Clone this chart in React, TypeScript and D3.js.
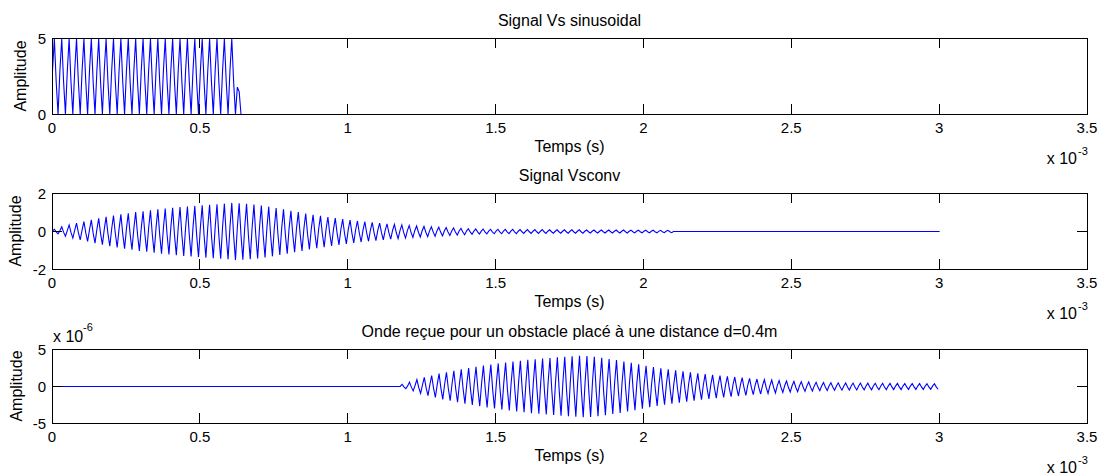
import * as d3 from "d3";

// time axis shown in ms (x 10^-3 s)
const xTicks = [0, 0.5, 1, 1.5, 2, 2.5, 3, 3.5];
const sampleStep = 0.00625; // 4 samples per 25 µs period (40 kHz)

// Vs: one sampled period, repeated
const vsCycle = [2.85, 4.98, 2.15, 0.02];
const vsCycles = 25;
const vsTail = [1.8, 1.5, 0];

// normalized samples of one carrier period
const cycleShape = [0.14, 0.99, -0.14, -0.99];

// Vsconv: peak amplitude of each period
const vsconvPeaks = [
  0.12, 0.25, 0.35, 0.45, 0.53, 0.62, 0.7, 0.78, 0.85, 0.91,
  0.97, 1.03, 1.08, 1.13, 1.18, 1.22, 1.26, 1.3, 1.33, 1.36,
  1.39, 1.42, 1.45, 1.48, 1.52, 1.5, 1.47, 1.43, 1.38, 1.32,
  1.25, 1.18, 1.1, 1.03, 0.96, 0.89, 0.83, 0.77, 0.71, 0.66,
  0.61, 0.56, 0.52, 0.48, 0.44, 0.41, 0.38, 0.35, 0.32, 0.29,
  0.27, 0.25, 0.23, 0.21, 0.19, 0.17, 0.15, 0.14, 0.13, 0.12,
  0.12, 0.11, 0.11, 0.1, 0.1, 0.1, 0.1, 0.09, 0.09, 0.09,
  0.09, 0.09, 0.08, 0.08, 0.08, 0.08, 0.08, 0.08, 0.07, 0.07,
  0.07, 0.07, 0.06, 0.06,
];
const vsconvEnd = 3;

// received wave (x 10^-6), starts after the delay
const recuStart = 1.176;
const recuPeaks = [
  0.3, 0.6, 0.95, 1.25, 1.5, 1.75, 1.95, 2.15, 2.35, 2.52,
  2.7, 2.86, 3.0, 3.15, 3.28, 3.4, 3.52, 3.63, 3.73, 3.82,
  3.9, 3.98, 4.06, 4.14, 4.2, 4.15, 4.05, 3.92, 3.76, 3.6,
  3.42, 3.22, 3.02, 2.82, 2.64, 2.48, 2.34, 2.2, 2.06, 1.92,
  1.8, 1.68, 1.58, 1.5, 1.4, 1.3, 1.2, 1.1, 1.02, 0.95,
  0.88, 0.82, 0.76, 0.7, 0.66, 0.62, 0.58, 0.55, 0.52, 0.5,
  0.48, 0.47, 0.46, 0.45, 0.44, 0.43, 0.42, 0.42, 0.41, 0.4,
  0.4, 0.39, 0.38,
];

type Pt = [number, number];

function vsPoints(): Pt[] {
  const pts: Pt[] = [];
  for (let k = 0; k < vsCycles; k++)
    vsCycle.forEach((v, j) => pts.push([(k * 4 + j) * sampleStep, v]));
  vsTail.forEach((v, j) => pts.push([(vsCycles * 4 + j) * sampleStep, v]));
  return pts;
}

function burst(start: number, peaks: number[]): Pt[] {
  const pts: Pt[] = [];
  peaks.forEach((a, k) =>
    cycleShape.forEach((s, j) => pts.push([start + (k * 4 + j) * sampleStep, a * s]))
  );
  return pts;
}

function vsconvPoints(): Pt[] {
  const pts = burst(0, vsconvPeaks);
  pts.push([vsconvPeaks.length * 4 * sampleStep, 0], [vsconvEnd, 0]);
  return pts;
}

function recuPoints(): Pt[] {
  const pts: Pt[] = [[0, 0], [recuStart, 0]];
  return pts.concat(burst(recuStart, recuPeaks));
}

const FONT = "'Liberation Sans', Arial, Helvetica, sans-serif";
const LEFT = 52;
const RIGHT = 1087;
const TICK = 10;

const x = d3.scaleLinear().domain([0, 3.5]).range([LEFT, RIGHT]);

function Panel({ title, top, bottom, yDomain, yTicks, points, ylabelX, yExp }: {
  title: string; top: number; bottom: number; yDomain: [number, number];
  yTicks: number[]; points: Pt[]; ylabelX: number; yExp?: string;
}) {
  const y = d3.scaleLinear().domain(yDomain).range([bottom, top]);
  const line = d3.line<Pt>().x((d) => x(d[0])).y((d) => y(d[1]));
  const mid = (LEFT + RIGHT) / 2;
  return (
    <g fontFamily={FONT} fill="#000">
      <path d={line(points) ?? ""} fill="none" stroke="#0000ff" strokeWidth={1.1}
        transform="translate(0.5,0.5)" />
      <g stroke="#000" strokeWidth={1} shapeRendering="crispEdges" fill="none">
        <rect x={LEFT} y={top} width={RIGHT - LEFT} height={bottom - top} />
        {xTicks.map((t) => (
          <g key={t}>
            <line x1={x(t)} x2={x(t)} y1={bottom} y2={bottom - TICK} />
            <line x1={x(t)} x2={x(t)} y1={top} y2={top + TICK} />
          </g>
        ))}
        {yTicks.map((t) => (
          <g key={t}>
            <line x1={LEFT} x2={LEFT + TICK} y1={y(t)} y2={y(t)} />
            <line x1={RIGHT} x2={RIGHT - TICK} y1={y(t)} y2={y(t)} />
          </g>
        ))}
      </g>
      {xTicks.map((t) => (
        <text key={t} x={x(t)} y={bottom + 19} fontSize={15} textAnchor="middle">{t}</text>
      ))}
      {yTicks.map((t) => (
        <text key={t} x={LEFT - 6} y={y(t) + 5.5} fontSize={15} textAnchor="end">{t}</text>
      ))}
      <text x={mid} y={top - 12} fontSize={16} textAnchor="middle">{title}</text>
      <text x={mid} y={bottom + 38} fontSize={16} textAnchor="middle">Temps (s)</text>
      <text transform={`translate(${ylabelX},${(top + bottom) / 2}) rotate(-90)`} fontSize={16} textAnchor="middle">Amplitude</text>
      <text x={1077} y={bottom + 50} fontSize={16} textAnchor="end">x 10</text>
      <text x={1078} y={bottom + 41} fontSize={11}>-3</text>
      {yExp && (
        <>
          <text x={LEFT + 1} y={top - 7} fontSize={16}>x 10</text>
          <text x={LEFT + 31} y={top - 18} fontSize={11}>{yExp}</text>
        </>
      )}
    </g>
  );
}

export default function App() {
  return (
    <svg width={1102} height={475} style={{ position: "absolute", left: 0, top: 0, background: "#fff" }}>
      <Panel title="Signal Vs sinusoidal" top={38} bottom={114} yDomain={[0, 5]} yTicks={[0, 5]}
        points={vsPoints()} ylabelX={26} />
      <Panel title="Signal Vsconv" top={193} bottom={269} yDomain={[-2, 2]} yTicks={[-2, 0, 2]}
        points={vsconvPoints()} ylabelX={21} />
      <Panel title="Onde reçue pour un obstacle placé à une distance d=0.4m" top={349} bottom={423}
        yDomain={[-5, 5]} yTicks={[-5, 0, 5]} points={recuPoints()} ylabelX={22} yExp="-6" />
    </svg>
  );
}
